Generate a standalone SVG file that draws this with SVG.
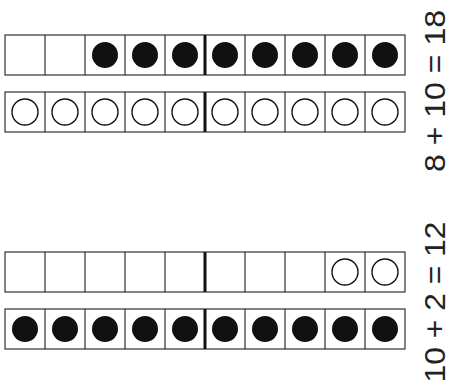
<svg xmlns="http://www.w3.org/2000/svg" width="451" height="387" viewBox="0 0 451 387">
<style>
.frame{fill:#fff;stroke:#333;stroke-width:1.2}
.cell{stroke:#333;stroke-width:1.2}
.mid{stroke:#111;stroke-width:3}
.full{fill:#111}
.empty{fill:none;stroke:#111;stroke-width:1.4}
.eq{font-family:"Liberation Sans","DejaVu Sans",sans-serif;font-size:29.5px;fill:#222}
</style>
<defs>
<g id="frame">
<rect class="frame" x="5" y="0" width="400" height="40"/>
<path class="cell" d="M45 0V40M85 0V40M125 0V40M165 0V40M245 0V40M285 0V40M325 0V40M365 0V40"/>
<path class="mid" d="M205 0V40"/>
</g>
<circle id="f" class="full" r="13"/>
<circle id="e" class="empty" r="13"/>
</defs>
<g id="row1" transform="translate(0,35)">
<use href="#frame"/>
<use href="#f" x="105" y="20"/><use href="#f" x="145" y="20"/><use href="#f" x="185" y="20"/><use href="#f" x="225" y="20"/><use href="#f" x="265" y="20"/><use href="#f" x="305" y="20"/><use href="#f" x="345" y="20"/><use href="#f" x="385" y="20"/>
</g>
<g id="row2" transform="translate(0,92)">
<use href="#frame"/>
<use href="#e" x="25" y="20"/><use href="#e" x="65" y="20"/><use href="#e" x="105" y="20"/><use href="#e" x="145" y="20"/><use href="#e" x="185" y="20"/><use href="#e" x="225" y="20"/><use href="#e" x="265" y="20"/><use href="#e" x="305" y="20"/><use href="#e" x="345" y="20"/><use href="#e" x="385" y="20"/>
</g>
<g id="row3" transform="translate(0,252)">
<use href="#frame"/>
<use href="#e" x="345" y="20"/><use href="#e" x="385" y="20"/>
</g>
<g id="row4" transform="translate(0,309)">
<use href="#frame"/>
<use href="#f" x="25" y="20"/><use href="#f" x="65" y="20"/><use href="#f" x="105" y="20"/><use href="#f" x="145" y="20"/><use href="#f" x="185" y="20"/><use href="#f" x="225" y="20"/><use href="#f" x="265" y="20"/><use href="#f" x="305" y="20"/><use href="#f" x="345" y="20"/><use href="#f" x="385" y="20"/>
</g>
<g id="eq1"><text class="eq" transform="translate(444.5,91) rotate(-90)" text-anchor="middle" textLength="162" lengthAdjust="spacingAndGlyphs">8 + 10 = 18</text></g>
<g id="eq2"><text class="eq" transform="translate(444.5,302) rotate(-90)" text-anchor="middle" textLength="161" lengthAdjust="spacingAndGlyphs">10 + 2 = 12</text></g>
</svg>
